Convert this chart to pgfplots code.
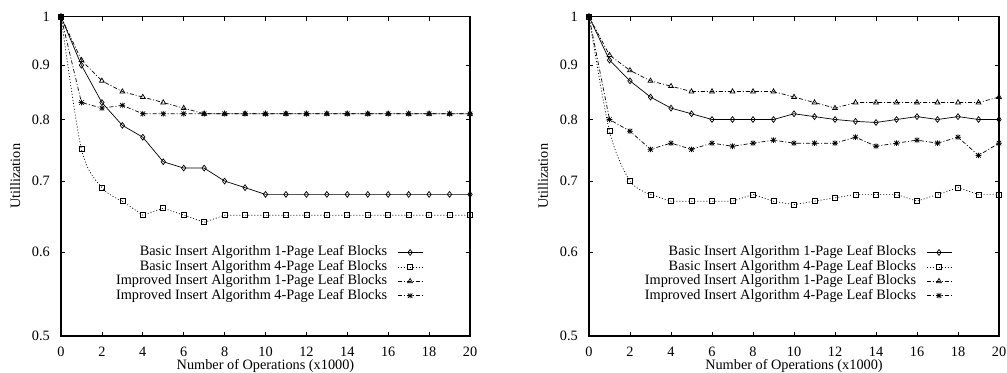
\documentclass[border=0pt]{standalone}
\usepackage{pgfplots}
\pgfplotsset{compat=1.18}
\usepackage{fontspec}
\setmainfont{Liberation Serif}

\pgfdeclareplotmark{gpstar}{%
  \pgfpathmoveto{\pgfqpoint{-\pgfplotmarksize}{0pt}}\pgfpathlineto{\pgfqpoint{\pgfplotmarksize}{0pt}}%
  \pgfpathmoveto{\pgfqpoint{0pt}{-\pgfplotmarksize}}\pgfpathlineto{\pgfqpoint{0pt}{\pgfplotmarksize}}%
  \pgfpathmoveto{\pgfqpoint{-0.8\pgfplotmarksize}{-0.8\pgfplotmarksize}}\pgfpathlineto{\pgfqpoint{0.8\pgfplotmarksize}{0.8\pgfplotmarksize}}%
  \pgfpathmoveto{\pgfqpoint{-0.8\pgfplotmarksize}{0.8\pgfplotmarksize}}\pgfpathlineto{\pgfqpoint{0.8\pgfplotmarksize}{-0.8\pgfplotmarksize}}%
  \pgfusepathqstroke}

\tikzset{
  s1/.style={black, line width=0.7bp, solid, mark=diamond, mark size=2.9bp, mark options={solid}},
  s2/.style={black, line width=0.7bp, dash pattern=on 1bp off 2bp, mark=square, mark size=2.5bp, mark options={solid}},
  s2l/.style={black, line width=0.7bp, dash pattern=on 1bp off 2bp},
  s3/.style={black, line width=0.7bp, dash pattern=on 4bp off 2bp on 1bp off 2bp, mark=triangle, mark size=2.8bp, mark options={solid}},
  s4/.style={black, line width=0.7bp, dash pattern=on 4bp off 2bp on 1bp off 2bp, mark=gpstar, mark size=2.8bp, mark options={solid}},
}
\pgfplotsset{
  myaxisstyle/.style={
    scale only axis, height=319.3bp,
    xmin=0, xmax=20, ymin=0.5, ymax=1,
    xtick={0,2,4,6,8,10,12,14,16,18,20},
    xticklabels={0,2,4,6,8,10,12,14,16,18,20},
    ytick={0.5,0.6,0.7,0.8,0.9,1},
    yticklabels={0.5,0.6,0.7,0.8,0.9,1},
    yminorticks=false, xminorticks=false,
    tick align=inside, major tick length=4bp,
    axis line style={line width=1.3bp},
    every tick/.style={black, line width=0.8bp},
    xticklabel style={anchor=base, yshift=-20.3bp},
    yticklabel style={anchor=east, xshift=-6.2bp},
    xlabel={Number of Operations (x1000)},
    ylabel={Utillization},
    every axis x label/.style={at={(axis description cs:0.5,-0.0924)}, anchor=center},
    every axis y label/.style={at={(axis description cs:-0.112,0.5)}, rotate=90, anchor=center},
    legend cell align=right, legend plot pos=right,
    legend image code/.code={\draw[mark repeat=2,mark phase=2] plot coordinates {(0bp,0bp) (12.5bp,0bp) (25bp,0bp)};},
    legend style={draw=none, fill=none, at={(axis description cs:0.885,0.282)}, anchor=north east,
      inner sep=0pt, outer sep=0pt, row sep=1.4bp, column sep=10bp,
      nodes={inner sep=0pt, text height=10bp, text depth=3bp}},
  },
}

\begin{document}
\fontsize{14.3bp}{17bp}\selectfont
\begin{tikzpicture}
\useasboundingbox (0,0) rectangle (1007bp,373bp);
% ---------------- left plot ----------------
\begin{axis}[ymode=log, myaxisstyle, width=409bp, at={(61bp,37bp)}, anchor=south west]
\addplot[s1] coordinates {(0,1) (1,0.90) (2,0.83) (3,0.79) (4,0.77) (5,0.73) (6,0.72) (7,0.72) (8,0.70) (9,0.69) (10,0.68) (11,0.68) (12,0.68) (13,0.68) (14,0.68) (15,0.68) (16,0.68) (17,0.68) (18,0.68) (19,0.68) (20,0.68)};
\addlegendentry{Basic Insert Algorithm 1-Page Leaf Blocks}
\addplot[s2] coordinates {(3,0.67) (4,0.65) (5,0.66) (6,0.65) (7,0.64) (8,0.65) (9,0.65) (10,0.65) (11,0.65) (12,0.65) (13,0.65) (14,0.65) (15,0.65) (16,0.65) (17,0.65) (18,0.65) (19,0.65) (20,0.65)};
\addlegendentry{Basic Insert Algorithm 4-Page Leaf Blocks}
\addplot[s2l, smooth, forget plot] coordinates {(0,1) (1,0.75) (2,0.69) (3,0.67)};
\addplot[s2, only marks, forget plot] coordinates {(0,1) (1,0.75) (2,0.69)};
\addplot[s3] coordinates {(0,1) (1,0.91) (2,0.87) (3,0.85) (4,0.84) (5,0.83) (6,0.82) (7,0.81) (8,0.81) (9,0.81) (10,0.81) (11,0.81) (12,0.81) (13,0.81) (14,0.81) (15,0.81) (16,0.81) (17,0.81) (18,0.81) (19,0.81) (20,0.81)};
\addlegendentry{Improved Insert Algorithm 1-Page Leaf Blocks}
\addplot[s4] coordinates {(0,1) (1,0.83) (2,0.82) (3,0.825) (4,0.81) (5,0.81) (6,0.81) (7,0.81) (8,0.81) (9,0.81) (10,0.81) (11,0.81) (12,0.81) (13,0.81) (14,0.81) (15,0.81) (16,0.81) (17,0.81) (18,0.81) (19,0.81) (20,0.81)};
\addlegendentry{Improved Insert Algorithm 4-Page Leaf Blocks}
\end{axis}
% ---------------- right plot ----------------
\begin{axis}[ymode=log, myaxisstyle, width=410bp, at={(589bp,37bp)}, anchor=south west]
\addplot[s1] coordinates {(0,1) (1,0.91) (2,0.87) (3,0.84) (4,0.82) (5,0.81) (6,0.80) (7,0.80) (8,0.80) (9,0.80) (10,0.81) (11,0.805) (12,0.80) (13,0.797) (14,0.795) (15,0.80) (16,0.805) (17,0.80) (18,0.805) (19,0.80) (20,0.80)};
\addlegendentry{Basic Insert Algorithm 1-Page Leaf Blocks}
\addplot[s2] coordinates {(3,0.68) (4,0.67) (5,0.67) (6,0.67) (7,0.67) (8,0.68) (9,0.67) (10,0.665) (11,0.67) (12,0.675) (13,0.68) (14,0.68) (15,0.68) (16,0.67) (17,0.68) (18,0.69) (19,0.68) (20,0.68)};
\addlegendentry{Basic Insert Algorithm 4-Page Leaf Blocks}
\addplot[s2l, smooth, forget plot] coordinates {(0,1) (1,0.78) (2,0.70) (3,0.68)};
\addplot[s2, only marks, forget plot] coordinates {(0,1) (1,0.78) (2,0.70)};
\addplot[s3] coordinates {(0,1) (1,0.92) (2,0.89) (3,0.87) (4,0.86) (5,0.85) (6,0.85) (7,0.85) (8,0.85) (9,0.85) (10,0.84) (11,0.83) (12,0.82) (13,0.83) (14,0.83) (15,0.83) (16,0.83) (17,0.83) (18,0.83) (19,0.83) (20,0.84)};
\addlegendentry{Improved Insert Algorithm 1-Page Leaf Blocks}
\addplot[s4] coordinates {(0,1) (1,0.80) (2,0.78) (3,0.75) (4,0.76) (5,0.75) (6,0.76) (7,0.755) (8,0.76) (9,0.765) (10,0.76) (11,0.76) (12,0.76) (13,0.77) (14,0.755) (15,0.76) (16,0.765) (17,0.76) (18,0.77) (19,0.74) (20,0.76)};
\addlegendentry{Improved Insert Algorithm 4-Page Leaf Blocks}
\end{axis}
\end{tikzpicture}
\end{document}
